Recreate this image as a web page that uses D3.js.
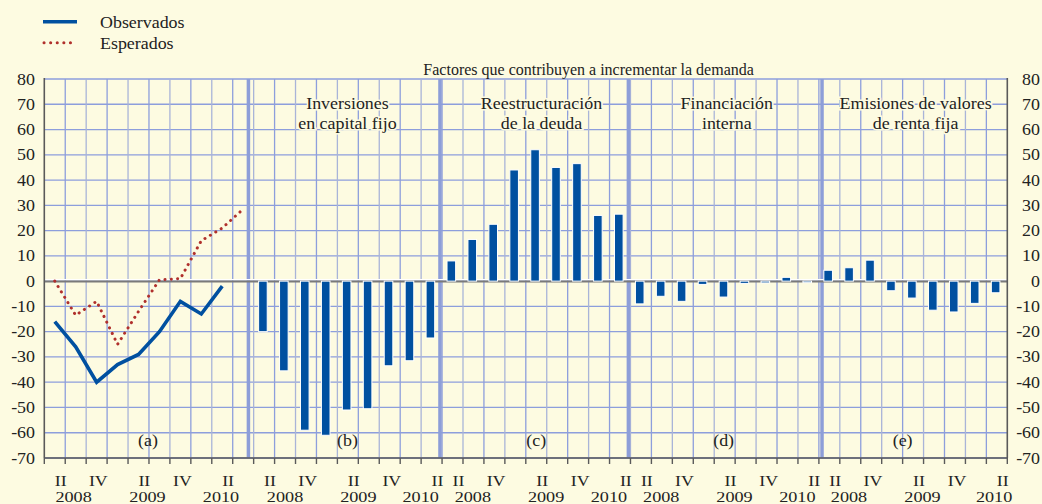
<!DOCTYPE html>
<html><head><meta charset="utf-8">
<script src="https://cdn.jsdelivr.net/npm/d3@7"></script>
<style>
html,body{margin:0;padding:0;background:#fdfbe1;}
</style></head>
<body><svg id="c" width="1042" height="504"></svg>
<script>
// ---------- data ----------
const panelLetters = ["(a)", "(b)", "(c)", "(d)", "(e)"];
const panelStart = [0, 10, 19, 28, 37];           // slot index where each panel begins
const panelSlots = [10, 9, 9, 9, 9];
const quarterLabels = ["II", "IV", "II", "IV", "II"];
const quarterPos = [0.78, 2.58, 4.78, 6.6, 8.78];
const yearLabels = ["2008", "2009", "2010"];
const yearPos = [[1.4, 4.93, 8.44], [1.5, 5.0, 7.98], [1.47, 4.97, 7.97], [1.47, 4.97, 7.97], [1.44, 4.95, 8.37]];
const yTicks = [80, 70, 60, 50, 40, 30, 20, 10, 0, -10, -20, -30, -40, -50, -60, -70];

const observed = [-16, -26, -40, -33, -29, -20, -8, -13, -2];
const expected = [0, -13.5, -8, -25, -12, 0.5, 1, 16, 21, 28.5];

const invCapitalFijo = [-20, -35.5, -59, -61, -51, -50.5, -33.5, -31.5, -22.5];
const reestructDeuda = [8, 16.5, 22.5, 44, 52, 45, 46.5, 26, 26.5];
const financInterna = [-9, -6, -8, -1.3, -6.3, -0.9, -0.7, 1.5, -0.6];
const emisionesRentaFija = [4.3, 5.3, 8.3, -3.8, -6.7, -11.5, -12.2, -8.8, -4.6];
const barSeries = [invCapitalFijo, reestructDeuda, financInterna, emisionesRentaFija];

const panelTitles = [["Inversiones", "en capital fijo"], ["Reestructuración", "de la deuda"], ["Financiación", "interna"], ["Emisiones de valores", "de renta fija"]];
const titlePos = [14.48, 23.75, 32.6, 41.62];
const letterPos = [4.95, 14.48, 23.5, 32.45, 41.0];
const separatorPos = [9.75, 18.9, 27.9, 37.15];
const supTitle = "Factores que contribuyen a incrementar la demanda";
const supTitlePos = 26;
const legendItems = ["Observados", "Esperados"];

// ---------- chart ----------
const svg = d3.select("#c");
const W = 1042, H = 504;
svg.append("rect").attr("width", W).attr("height", H).attr("fill", "#fdfbe1");

const x = d3.scaleLinear().domain([0, 46]).range([44.3, 1007.3]);
const y = d3.scaleLinear().domain([-70, 80]).range([458, 79]);
const FS = 16;
const FONT = "'Liberation Serif', 'Times New Roman', Times, 'DejaVu Serif', serif";
const gridC = "#8d9edc", axisC = "#5a5a5a", blue = "#0050a0", red = "#b0302c";

function txt(g, tx, ty, s, anchor, size, sx) {
  return g.append("text")
    .attr("transform", `translate(${tx},${ty}) scale(${sx || 1.12},1)`)
    .attr("text-anchor", anchor || "middle")
    .attr("font-family", FONT)
    .attr("font-size", size || FS)
    .attr("fill", "#222")
    .text(s);
}

const grid = svg.append("g");
// horizontal grid
grid.selectAll("line.h").data(yTicks).join("line")
  .attr("x1", x(0)).attr("x2", x(46)).attr("y1", d => y(d)).attr("y2", d => y(d))
  .attr("stroke", gridC).attr("stroke-width", 1.3);
// vertical grid
grid.selectAll("line.v").data(d3.range(1, 46)).join("line")
  .attr("x1", d => x(d)).attr("x2", d => x(d)).attr("y1", y(80)).attr("y2", y(-70))
  .attr("stroke", d => d % 2 ? gridC : "#a9b4d8").attr("stroke-width", 1.3);
// panel separators
grid.selectAll("line.s").data(separatorPos).join("line")
  .attr("x1", d => x(d)).attr("x2", d => x(d)).attr("y1", y(80)).attr("y2", y(-70))
  .attr("stroke", "#8d9ed8").attr("stroke-width", 3.5);

// zero line
svg.append("line").attr("x1", x(0)).attr("x2", x(46)).attr("y1", y(0) - 1.6).attr("y2", y(0) - 1.6)
  .attr("stroke", "#ffffff").attr("stroke-width", 1.2);
svg.append("line").attr("x1", x(0)).attr("x2", x(46)).attr("y1", y(0) + 0.3).attr("y2", y(0) + 0.3)
  .attr("stroke", "#7a7a7a").attr("stroke-width", 2);

// bars
const bw = 8.6;
barSeries.forEach((vals, p) => {
  const s = panelStart[p + 1];
  svg.append("g").selectAll("rect").data(vals).join("rect")
    .attr("x", (d, i) => x(s + i + 0.5) - bw / 2 - 1.2)
    .attr("width", bw)
    .attr("y", d => y(Math.max(0, d)))
    .attr("height", d => Math.abs(y(d) - y(0)))
    .attr("fill", blue).attr("stroke", "#ffffff").attr("stroke-width", 1);
});

// lines in panel (a)
const lineGen = d3.line().x((d, i) => x(i + 0.5)).y(d => y(d));
svg.append("path").datum(expected).attr("d", lineGen).attr("fill", "none")
  .attr("stroke", red).attr("stroke-width", 3).attr("stroke-linecap", "round")
  .attr("stroke-dasharray", "0.1 6.2");
svg.append("path").datum(observed).attr("d", lineGen).attr("fill", "none")
  .attr("stroke", blue).attr("stroke-width", 3.6).attr("stroke-linejoin", "miter");

// axes
svg.append("line").attr("x1", x(0)).attr("x2", x(0)).attr("y1", y(80) - 1).attr("y2", y(-70))
  .attr("stroke", axisC).attr("stroke-width", 1.6);
svg.append("line").attr("x1", x(46)).attr("x2", x(46)).attr("y1", y(80) - 1).attr("y2", y(-70))
  .attr("stroke", axisC).attr("stroke-width", 1.6);
svg.append("line").attr("x1", x(0)).attr("x2", x(46)).attr("y1", y(-70)).attr("y2", y(-70))
  .attr("stroke", axisC).attr("stroke-width", 1.4);
svg.append("g").selectAll("line").data(d3.range(0, 47)).join("line")
  .attr("x1", d => x(d)).attr("x2", d => x(d)).attr("y1", y(-70)).attr("y2", y(-70) + 6)
  .attr("stroke", axisC).attr("stroke-width", 1.4);

// y tick labels
const yl = svg.append("g");
yTicks.forEach(v => {
  txt(yl, 35, y(v) + 5.5, String(v), "end");
  txt(yl, 1040, y(v) + 5.5, String(v), "end");
});

// x labels
const xl = svg.append("g");
panelStart.forEach((s, p) => {
  quarterLabels.forEach((q, i) => txt(xl, x(s + quarterPos[i]), 486, q, "middle", 14, 1.27));
  yearLabels.forEach((yr, i) => txt(xl, x(s + yearPos[p][i]), 501.5, yr, "middle", 14, 1.3));
});

// panel letters
const lg = svg.append("g");
panelLetters.forEach((l, i) => txt(lg, x(letterPos[i]), 446, l, "middle"));

// panel titles with halo
const tg = svg.append("g");
panelTitles.forEach((lines, i) => {
  lines.forEach((t, j) => {
    txt(tg, x(titlePos[i]), 109 + j * 19.5, t, "middle")
      .attr("stroke", "#fdfbe1").attr("stroke-width", 3).attr("paint-order", "stroke");
  });
});
txt(tg, x(supTitlePos), 75, supTitle, "middle", 16, 1.0);

// legend
const leg = svg.append("g");
leg.append("line").attr("x1", 43).attr("x2", 77).attr("y1", 21.7).attr("y2", 21.7)
  .attr("stroke", blue).attr("stroke-width", 3.6);
leg.append("line").attr("x1", 44).attr("x2", 77).attr("y1", 42.7).attr("y2", 42.7)
  .attr("stroke", red).attr("stroke-width", 3).attr("stroke-linecap", "round")
  .attr("stroke-dasharray", "0.1 6.5");
txt(leg, 100, 28, legendItems[0], "start");
txt(leg, 100, 49, legendItems[1], "start");
</script></body></html>
